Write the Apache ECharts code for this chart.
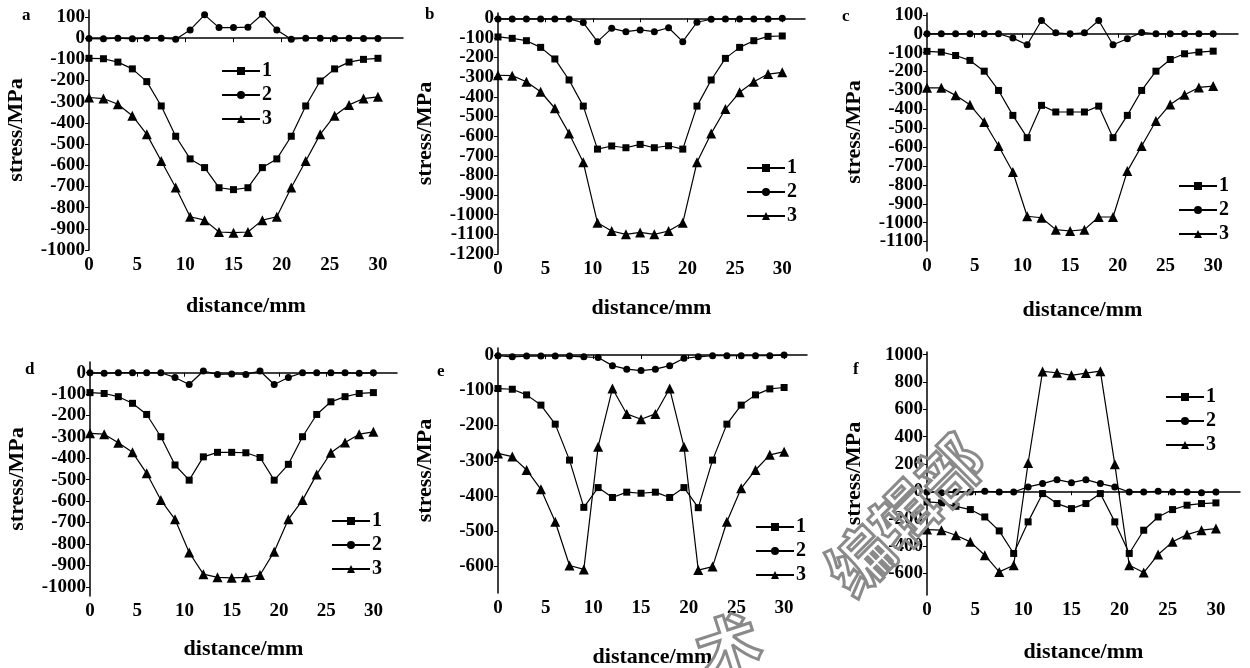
<!DOCTYPE html>
<html>
<head>
<meta charset="utf-8">
<script src="https://cdn.jsdelivr.net/npm/echarts@6/dist/echarts.min.js"></script>
<style>
  html, body { margin: 0; padding: 0; background: #fff; }
  #chart { width: 1250px; height: 668px; }
</style>
</head>
<body>
<div id="chart"></div>
<script>
// 横坐标 distance/mm
const distance = [0, 1.5, 3, 4.5, 6, 7.5, 9, 10.5, 12, 13.5, 15, 16.5, 18, 19.5, 21, 22.5, 24, 25.5, 27, 28.5, 30];
const xTicks = [0, 5, 10, 15, 20, 25, 30];
const seriesNames = ['1', '2', '3'];

// a
const a1 = [-95, -97, -113, -145, -205, -320, -463, -570, -611, -706, -715, -706, -611, -570, -463, -320, -202, -145, -113, -100, -95];
const a2 = [-2, -3, 0, -3, 0, 0, -5, 39, 110, 50, 50, 52, 113, 39, -5, 0, 0, -2, 0, -2, -2];
const a3 = [-280, -285, -312, -366, -454, -580, -705, -843, -859, -915, -918, -915, -859, -843, -705, -580, -454, -366, -315, -285, -277];
const aTicks = [100, 0, -100, -200, -300, -400, -500, -600, -700, -800, -900, -1000];

// b
const b1 = [-95, -102, -114, -148, -207, -314, -447, -666, -650, -659, -642, -659, -649, -666, -447, -314, -204, -148, -114, -92, -90];
const b2 = [-3, -3, -3, -3, -3, -3, -22, -119, -51, -68, -59, -68, -48, -119, -20, -5, -3, -3, -3, -3, 0];
const b3 = [-290, -292, -323, -374, -458, -586, -733, -1041, -1083, -1100, -1090, -1100, -1083, -1041, -733, -586, -462, -377, -323, -284, -275];
const bTicks = [0, -100, -200, -300, -400, -500, -600, -700, -800, -900, -1000, -1100, -1200];

// c
const c1 = [-93, -97, -115, -141, -198, -300, -432, -550, -379, -414, -414, -414, -383, -550, -432, -300, -198, -136, -106, -97, -92];
const c2 = [0, 0, 0, 0, 0, 0, -23, -58, 70, 5, 0, 5, 70, -58, -26, 7, 0, 0, 0, 0, 0];
const c3 = [-286, -286, -326, -376, -467, -594, -732, -966, -974, -1037, -1044, -1037, -970, -970, -727, -594, -462, -374, -323, -284, -277];
const cTicks = [100, 0, -100, -200, -300, -400, -500, -600, -700, -800, -900, -1000, -1100];

// d
const d1 = [-93, -97, -112, -143, -195, -299, -431, -502, -393, -372, -372, -374, -396, -502, -428, -299, -195, -136, -112, -97, -93];
const d2 = [0, -3, 0, 0, 0, 0, -22, -55, 8, -8, -6, -8, 8, -55, -22, 0, 0, 0, 0, -3, 0];
const d3 = [-283, -287, -327, -372, -470, -595, -685, -840, -941, -956, -958, -956, -945, -836, -685, -595, -475, -374, -326, -287, -276];
const dTicks = [0, -100, -200, -300, -400, -500, -600, -700, -800, -900, -1000];

// e
const e1 = [-95, -97, -113, -142, -196, -298, -432, -376, -404, -389, -392, -389, -404, -376, -433, -298, -196, -142, -113, -96, -92];
const e2 = [-2, -5, -3, -3, -3, -3, -5, -7, -30, -40, -44, -40, -30, -9, -5, -2, -2, -2, -2, -2, 0];
const e3 = [-279, -288, -326, -381, -473, -597, -608, -260, -95, -167, -182, -167, -95, -260, -610, -600, -473, -378, -326, -283, -274];
const eTicks = [0, -100, -200, -300, -400, -500, -600];

// f
const f1 = [-78, -85, -110, -134, -188, -290, -455, -224, -17, -90, -127, -90, -17, -224, -455, -285, -188, -134, -102, -90, -85];
const f2 = [-5, -10, -5, -5, 0, -5, -5, 32, 56, 85, 63, 85, 56, 32, -5, -5, 0, -5, -5, -10, -5];
const f3 = [-280, -285, -322, -370, -468, -590, -541, 207, 877, 867, 848, 865, 879, 197, -541, -595, -463, -370, -317, -285, -273];
const fTicks = [1000, 800, 600, 400, 200, 0, -200, -400, -600];

const font = 'Liberation Serif';
const symbols = ['rect', 'circle', 'triangle'];
const symbolSizes = [7, 7, 10];

const panels = [
    { letter: 'a', data: [a1, a2, a3], ticks: aTicks, yMin: -1000, yMax: 133, xMax: 32.6, xGap: 45,
      grid: { left: 89, top: 10, width: 314, height: 240 }, legend: { left: 216, top: 56 }, lpos: [27, 16] },
    { letter: 'b', data: [b1, b2, b3], ticks: bTicks, yMin: -1200, yMax: 27, xMax: 32.4, xGap: 43,
      grid: { left: 498, top: 13, width: 307, height: 241 }, legend: { left: 741, top: 153 }, lpos: [430, 15] },
    { letter: 'c', data: [c1, c2, c3], ticks: cTicks, yMin: -1150, yMax: 110, xMax: 32.6, xGap: 48,
      grid: { left: 927, top: 13, width: 311, height: 238 }, legend: { left: 1173, top: 171 }, lpos: [847, 17] },
    { letter: 'd', data: [d1, d2, d3], ticks: dTicks, yMin: -1043, yMax: 50, xMax: 32.5, xGap: 42,
      grid: { left: 90, top: 362, width: 307, height: 234 }, legend: { left: 326, top: 506 }, lpos: [30, 370] },
    { letter: 'e', data: [e1, e2, e3], ticks: eTicks, yMin: -675, yMax: 20, xMax: 32.4, xGap: 53,
      grid: { left: 498, top: 348, width: 309, height: 245 }, legend: { left: 750, top: 512 }, lpos: [442, 372] },
    { letter: 'f', data: [f1, f2, f3], ticks: fTicks, yMin: -759, yMax: 1019, xMax: 32.5, xGap: 46,
      grid: { left: 927, top: 352, width: 313, height: 243 }, legend: { left: 1160, top: 382 }, lpos: [858, 370] },
];

const grids = [], xAxes = [], yAxes = [], series = [], legends = [], graphics = [];
const labelStyle = { fontFamily: font, fontWeight: 'bold', fontSize: 19, color: '#000' };
const nameStyle = { fontFamily: font, fontWeight: 'bold', fontSize: 22, color: '#000' };

panels.forEach((p, i) => {
    grids.push(Object.assign({ outerBoundsMode: 'none', containLabel: false }, p.grid));
    xAxes.push({
        gridIndex: i, type: 'value', min: 0, max: p.xMax,
        name: 'distance/mm', nameLocation: 'middle', nameGap: p.xGap,
        nameTextStyle: nameStyle,
        axisLine: { lineStyle: { color: '#000', width: 1.5 } },
        axisTick: { customValues: xTicks, length: 4, lineStyle: { color: '#000' } },
        axisLabel: Object.assign({ customValues: xTicks, margin: 6, formatter: v => String(v) }, labelStyle),
        splitLine: { show: false },
    });
    yAxes.push({
        gridIndex: i, type: 'value', min: p.yMin, max: p.yMax,
        name: 'stress/MPa', nameLocation: 'middle', nameGap: 62,
        nameTextStyle: nameStyle,
        axisLine: { show: true, lineStyle: { color: '#000', width: 1.5 } },
        axisTick: { show: true, customValues: p.ticks, length: 4, lineStyle: { color: '#000' } },
        axisLabel: Object.assign({ customValues: p.ticks, margin: 4, formatter: v => String(v) }, labelStyle),
        splitLine: { show: false },
    });
    p.data.forEach((vals, k) => {
        series.push({
            name: seriesNames[k], type: 'line', xAxisIndex: i, yAxisIndex: i,
            data: distance.map((x, j) => [x, vals[j]]),
            symbol: symbols[k], symbolSize: symbolSizes[k],
            lineStyle: { color: '#000', width: 1.2 },
            itemStyle: { color: '#000' },
            animation: false,
        });
    });
    legends.push({
        left: p.legend.left, top: p.legend.top, orient: 'vertical',
        data: seriesNames, itemWidth: 38, itemHeight: 10, itemGap: 4,
        selectedMode: false,
        textStyle: { fontFamily: font, fontWeight: 'bold', fontSize: 20, color: '#000', padding: [0, 0, 0, -3] },
    });
    graphics.push({
        type: 'text', left: p.lpos[0] - 5, top: p.lpos[1] - 9,
        style: { text: p.letter, font: 'bold 17px "Liberation Serif"', fill: '#000' },
    });
});

// 水印
graphics.push({
    type: 'text', x: 905, y: 515, rotation: Math.PI / 4, z: 10,
    style: { text: '编辑部', font: 'bold 64px "Noto Sans CJK SC"', fill: 'rgba(255,255,255,0)', stroke: '#8a8a8a', lineWidth: 3, align: 'center', verticalAlign: 'middle' },
});
graphics.push({
    type: 'text', x: 728, y: 645, rotation: Math.PI / 10, z: 10,
    style: { text: '术', font: 'bold 64px "Noto Sans CJK SC"', fill: 'rgba(255,255,255,0)', stroke: '#8a8a8a', lineWidth: 3, align: 'center', verticalAlign: 'middle' },
});

const chart = echarts.init(document.getElementById('chart'));
chart.setOption({
    backgroundColor: '#fff',
    animation: false,
    grid: grids,
    xAxis: xAxes,
    yAxis: yAxes,
    legend: legends,
    series: series,
    graphic: graphics,
});
</script>
</body>
</html>
